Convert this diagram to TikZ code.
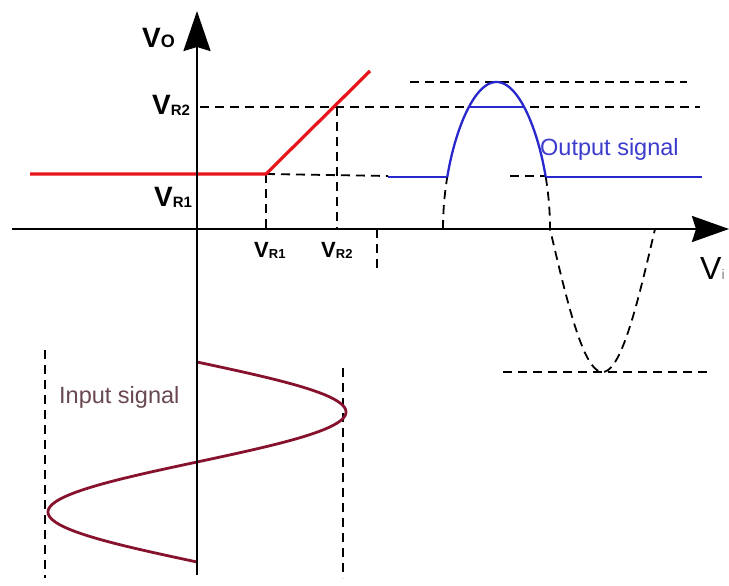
\documentclass[tikz,border=0pt]{standalone}
\usepackage{fontspec}
\setmainfont{Liberation Sans}
\usetikzlibrary{arrows.meta}
\definecolor{cred}{RGB}{232,22,28}
\definecolor{cblue}{RGB}{40,40,205}
\definecolor{cmaroon}{RGB}{135,18,45}
\definecolor{intext}{RGB}{105,72,80}
\definecolor{outtext}{RGB}{60,60,205}
\tikzset{
  axisline/.style={line width=2.5pt, draw=black},
  redline/.style={line width=3.2pt, draw=cred},
  blueline/.style={line width=2.3pt, draw=cblue},
  maroonline/.style={line width=2.8pt, draw=cmaroon},
  dashline/.style={line width=1.8pt, dash pattern=on 9pt off 6pt, draw=black},
  bigV/.style={inner sep=0pt, anchor=base west, font=\fontsize{28}{28}\selectfont\bfseries},
  smallV/.style={inner sep=0pt, anchor=base west, font=\fontsize{22}{22}\selectfont\bfseries},
  sigtext/.style={inner sep=0pt, anchor=base west, font=\fontsize{23.5}{24}\selectfont}
}
\begin{document}
\begin{tikzpicture}[x=1pt,y=-1pt,
  declare function={up(\t)=229-147*sqrt(abs(sin(1.68224*(\t-443))));
                    dn(\t)=229+143*sin(1.71429*(\t-550));}]
\useasboundingbox (0,0) rectangle (729,586);
\fill[white] (0,0) rectangle (729,586);

% coordinates
\coordinate (xs) at (12,229);
\coordinate (xe) at (729,229);
\coordinate (ys) at (197,575);
\coordinate (ye) at (197,11);
\coordinate (r0) at (30,174);
\coordinate (r1) at (266,174);
\coordinate (r2) at (370,71);

% dashed guide lines
\draw[dashline] (200,107) -- (700,107);
\draw[dashline] (410,82) -- (687,82);
\draw[dashline] (r1) -- (388,176);
\draw[dashline] (510,176) -- (545,176);
\draw[dashline] (r1) -- (266,233);
\draw[dashline] (337,107) -- (337,229);
\draw[dashline] (377,229) -- (377,268);
\draw[dashline] (503,372) -- (708,372);
\draw[dashline] (45,350) -- (45,578);
\draw[dashline] (343,368) -- (343,578);

% transfer characteristic
\draw[redline] (r0) -- (r1) -- (r2);

% input signal
\draw[maroonline, samples=160, smooth] plot[domain=362:562] ({197+149*sin(1.8*(\x-362))},\x);

% output signal: dashed parts of the input sine
\draw[dashline, samples=30] plot[domain=443:447.3] (\x,{up(\x)});
\draw[dashline, samples=80, smooth] plot[domain=545.7:550] (\x,{up(\x)})
   -- plot[domain=550:655] (\x,{dn(\x)});
% output signal: solid blue
\draw[blueline, samples=160, smooth] plot[domain=447.3:545.7] (\x,{up(\x)});
\draw[blueline] (388,177) -- (447.3,177);
\draw[blueline] (545.7,177) -- (702,177);
\draw[blueline] (470,107) -- (523,107);

% axes
\draw[axisline, -{Stealth[length=37pt,width=26pt,inset=4pt]}] (xs) -- (xe);
\draw[axisline, -{Stealth[length=40pt,width=27pt,inset=4pt]}] (ys) -- (ye);

% labels
\node[bigV] (vo) at (142,48) {V{\fontsize{18}{18}\selectfont O}};
\node[bigV] (vr2l) at (152,114) {V\raisebox{-1.5pt}{\fontsize{15}{15}\selectfont R2}};
\node[bigV] (vr1l) at (154,206) {V\raisebox{-1.5pt}{\fontsize{15}{15}\selectfont R1}};
\node[smallV] (vr1b) at (254,257) {V\raisebox{-1.5pt}{\fontsize{13}{13}\selectfont R1}};
\node[smallV] (vr2b) at (321,257) {V\raisebox{-1.5pt}{\fontsize{13}{13}\selectfont R2}};
\node[inner sep=0pt, anchor=base west, font=\fontsize{32}{32}\selectfont] (vi) at (700,279) {V{\color{gray}\fontsize{14}{14}\selectfont i}};
\node[sigtext, text=outtext] (outlbl) at (540,155) {Output signal};
\node[sigtext, text=intext] (inlbl) at (59,403) {Input signal};
\end{tikzpicture}
\end{document}
